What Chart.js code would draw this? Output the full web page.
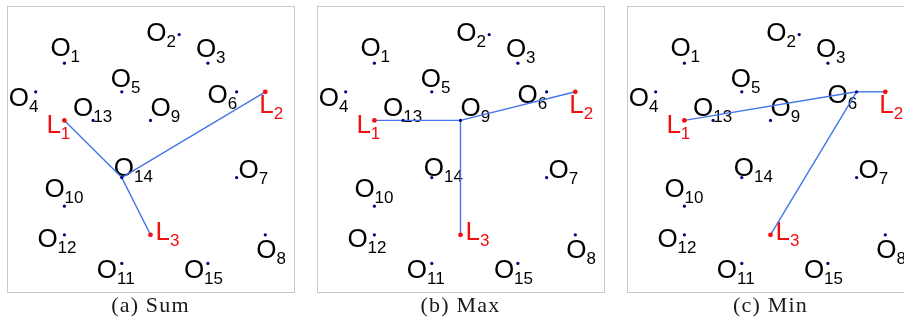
<!DOCTYPE html>
<html>
<head>
<meta charset="utf-8">
<script src="https://cdn.jsdelivr.net/npm/chart.js@4"></script>
<style>
  html, body { margin: 0; padding: 0; background: #fff; }
  body { width: 904px; height: 327px; overflow: hidden; position: relative; }
  .panel { position: absolute; top: 0; width: 301px; height: 327px; }
  .panel canvas { position: absolute; left: 0; top: 0; }
  .caption { position: absolute; left: 0; top: 292px; width: 301px; text-align: center; line-height: 26px;
             font-family: "Liberation Serif", "DejaVu Serif", serif; font-size: 22px; letter-spacing: 1.2px; color: #1a1a1a; }
</style>
</head>
<body>
<div class="panel" style="left:0px"><canvas id="sumChart" width="301" height="327"></canvas><div class="caption">(a) Sum</div></div>
<div class="panel" style="left:310px"><canvas id="maxChart" width="301" height="327"></canvas><div class="caption">(b) Max</div></div>
<div class="panel" style="left:620px"><canvas id="minChart" width="301" height="327"></canvas><div class="caption">(c) Min</div></div>

<script>
// obstacle points O1..O15
var obsNames = ['O1','O2','O3','O4','O5','O6','O7','O8','O9','O10','O11','O12','O13','O14','O15'];
var obsX = [2, 6, 7, 1, 4, 8, 8, 9, 5, 2, 4, 2, 3, 4, 7];
var obsY = [8, 9, 8, 7, 7, 7, 4, 2, 6, 3, 1, 2, 6, 4, 1];

// landmarks L1..L3
var lmNames = ['L1','L2','L3'];
var lmX = [2, 9, 5];
var lmY = [6, 7, 2];

// which obstacle every landmark is joined to, per panel
var panelIds = ['sumChart', 'maxChart', 'minChart'];
var panelHubs = ['O14', 'O9', 'O6'];

// where each label sits relative to its point (pixels: left of text, baseline)
var labelOffsets = {
  O1: [-14, -7], O2: [-33, 6], O3: [-12, -6], O4: [-27, 14], O5: [-11, -5],
  O6: [-29, 11], O7: [2, 0], O8: [-9, 23], O9: [0, -4], O10: [-20, -9],
  O11: [-25, 15], O12: [-27, 12], O13: [-20, -4], O14: [-8, -2], O15: [-24, 15],
  L1: [-18, 13], L2: [-6, 21], L3: [5, 5]
};

var LINE_BLUE = '#4476ea';
var DOT_NAVY = '#00007a';
var LM_RED = '#f01010';

function pointsOf(names, xs, ys) {
  var pts = [];
  for (var i = 0; i < names.length; i++) {
    pts.push({x: xs[i], y: ys[i], name: names[i]});
  }
  return pts;
}

var framePlugin = {
  id: 'frame',
  beforeDatasetsDraw: function(chart) {
    var a = chart.chartArea;
    var ctx = chart.ctx;
    ctx.save();
    ctx.strokeStyle = '#c8c8c8';
    ctx.lineWidth = 1;
    ctx.strokeRect(Math.round(a.left) + 0.5, Math.round(a.top) + 0.5,
                   Math.round(a.right - a.left), Math.round(a.bottom - a.top));

    // labels: big letter + subscript number
    var xs = chart.scales.x, ys = chart.scales.y;
    var all = pointsOf(obsNames, obsX, obsY).concat(pointsOf(lmNames, lmX, lmY));
    ctx.textBaseline = 'alphabetic';
    ctx.textAlign = 'left';
    all.forEach(function(p) {
      var off = labelOffsets[p.name];
      var px = xs.getPixelForValue(p.x) + off[0];
      var py = ys.getPixelForValue(p.y) + off[1];
      var letter = p.name.charAt(0);
      var sub = p.name.slice(1);
      ctx.fillStyle = letter === 'L' ? LM_RED : '#000';
      ctx.font = '26px "Liberation Sans", Arial, sans-serif';
      ctx.fillText(letter, px, py);
      var w = ctx.measureText(letter).width;
      ctx.font = '17px "Liberation Sans", Arial, sans-serif';
      ctx.fillText(sub, px + w, py + 6);
    });
    ctx.restore();
  }
};

function buildChart(id, hub) {
  var hi = obsNames.indexOf(hub);
  var datasets = [];
  datasets.push({
    type: 'scatter',
    data: pointsOf(obsNames, obsX, obsY),
    pointRadius: 1.6,
    pointBackgroundColor: DOT_NAVY,
    pointBorderWidth: 0,
    order: 0
  });
  datasets.push({
    type: 'scatter',
    data: pointsOf(lmNames, lmX, lmY),
    pointRadius: 2.4,
    pointBackgroundColor: LM_RED,
    pointBorderWidth: 0,
    order: 0
  });
  for (var i = 0; i < lmNames.length; i++) {
    datasets.push({
      type: 'line',
      data: [{x: lmX[i], y: lmY[i]}, {x: obsX[hi], y: obsY[hi]}],
      borderColor: LINE_BLUE,
      borderWidth: 1.4,
      pointRadius: 0,
      fill: false,
      tension: 0,
      order: 1
    });
  }
  new Chart(document.getElementById(id), {
    type: 'scatter',
    data: { datasets: datasets },
    options: {
      responsive: false,
      animation: false,
      clip: false,
      layout: { padding: { left: 7, right: 7, top: 6, bottom: 35 } },
      plugins: { legend: { display: false }, tooltip: { enabled: false } },
      scales: {
        x: { type: 'linear', min: 0, max: 10, display: false },
        y: { type: 'linear', min: 0, max: 10, display: false }
      }
    },
    plugins: [framePlugin]
  });
}

for (var k = 0; k < panelIds.length; k++) {
  buildChart(panelIds[k], panelHubs[k]);
}
</script>
</body>
</html>
